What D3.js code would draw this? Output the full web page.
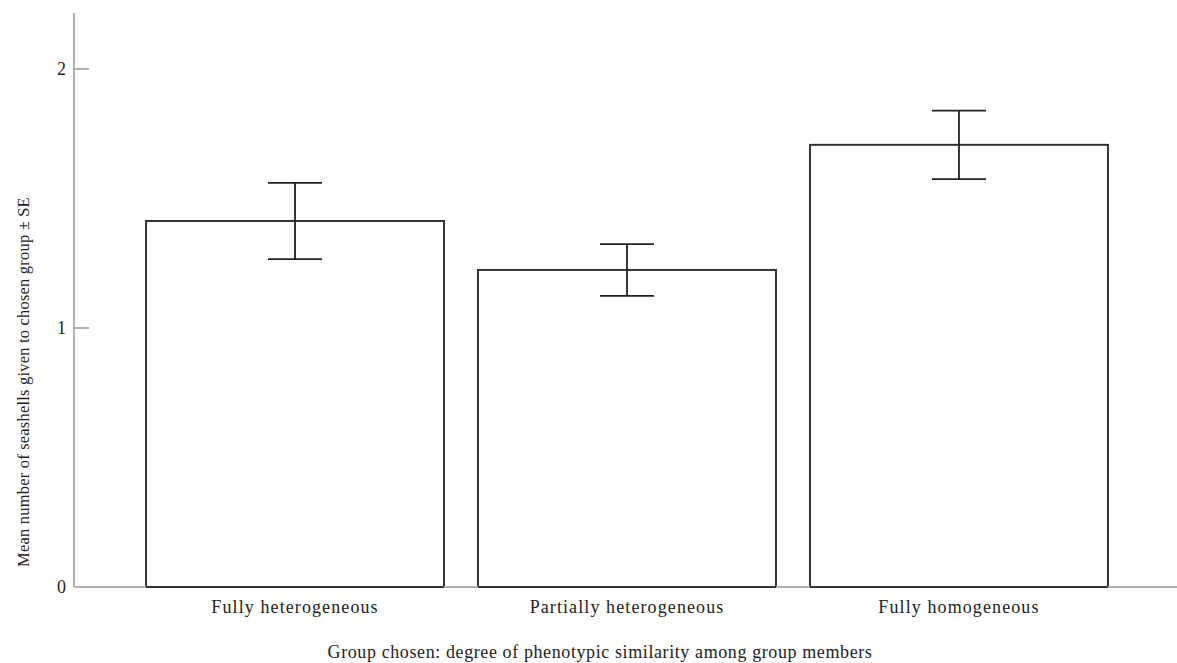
<!DOCTYPE html>
<html lang="en">
<head>
  <meta charset="UTF-8" />
  <title>Seashells given to chosen group</title>
  <script src="https://d3js.org/d3.v7.min.js"></script>
  <style>
    body { margin: 0; background: #fff; }
    svg text { font-family: "Liberation Serif", "Times New Roman", "DejaVu Serif", serif; fill: #222; }
    .axis-line { stroke: #b0b0b0; stroke-width: 2px; }
    .bar { fill: #fff; stroke: #333; stroke-width: 2px; }
    .err { stroke: #222; stroke-width: 1.8px; }
  </style>
</head>
<body>
<svg width="1177" height="663"></svg>
<script>
const categories = ["Fully heterogeneous", "Partially heterogeneous", "Fully homogeneous"];
const means = [1.413, 1.224, 1.707];
const se = [0.147, 0.100, 0.132];
const yTicks = [0, 1, 2];

const svg = d3.select("svg");
const x0 = 74, yBottom = 587, yTop = 13;

const x = d3.scaleBand()
  .domain(categories)
  .range([x0, 1180])
  .paddingInner(0.1024)
  .paddingOuter(0.217);

const y = d3.scaleLinear()
  .domain([0, 2.216])
  .range([yBottom, yTop]);

// bars
svg.append("g")
  .selectAll("rect")
  .data(categories)
  .join("rect")
  .attr("class", "bar")
  .attr("x", d => x(d))
  .attr("width", x.bandwidth())
  .attr("y", (d, i) => y(means[i]))
  .attr("height", (d, i) => yBottom - y(means[i]));

// axes drawn as plain lines
svg.append("line").attr("class", "axis-line")
  .attr("x1", x0).attr("x2", x0).attr("y1", yTop).attr("y2", yBottom);
svg.append("line").attr("class", "axis-line")
  .attr("x1", x0).attr("x2", 1177).attr("y1", yBottom).attr("y2", yBottom);

// redraw bar bottoms on top of axis
svg.append("g")
  .selectAll("line")
  .data(categories)
  .join("line")
  .attr("stroke", "#333").attr("stroke-width", 2)
  .attr("x1", d => x(d)).attr("x2", d => x(d) + x.bandwidth())
  .attr("y1", yBottom).attr("y2", yBottom);

const tick = svg.append("g")
  .selectAll("g")
  .data(yTicks.filter(t => t > 0))
  .join("g");
tick.append("line").attr("class", "axis-line").attr("stroke-width", 1.5)
  .attr("x1", x0).attr("x2", x0 + 15)
  .attr("y1", d => y(d)).attr("y2", d => y(d));

svg.append("g")
  .selectAll("text")
  .data(yTicks)
  .join("text")
  .attr("x", 66)
  .attr("y", d => y(d) + 6)
  .attr("text-anchor", "end")
  .attr("font-size", 18)
  .text(d => d);

// error bars
const eb = svg.append("g")
  .selectAll("g")
  .data(categories)
  .join("g");
const cx = d => x(d) + x.bandwidth() / 2;
eb.append("line").attr("class", "err")
  .attr("x1", cx).attr("x2", cx)
  .attr("y1", (d, i) => y(means[i] + se[i]))
  .attr("y2", (d, i) => y(means[i] - se[i]));
eb.append("line").attr("class", "err")
  .attr("x1", d => cx(d) - 27).attr("x2", d => cx(d) + 27)
  .attr("y1", (d, i) => y(means[i] + se[i]))
  .attr("y2", (d, i) => y(means[i] + se[i]));
eb.append("line").attr("class", "err")
  .attr("x1", d => cx(d) - 27).attr("x2", d => cx(d) + 27)
  .attr("y1", (d, i) => y(means[i] - se[i]))
  .attr("y2", (d, i) => y(means[i] - se[i]));

// category labels
svg.append("g")
  .selectAll("text")
  .data(categories)
  .join("text")
  .attr("x", cx)
  .attr("y", 613)
  .attr("text-anchor", "middle")
  .attr("font-size", 18)
  .attr("letter-spacing", 1.1)
  .text(d => d);

svg.append("text")
  .attr("x", 600)
  .attr("y", 658)
  .attr("text-anchor", "middle")
  .attr("font-size", 18)
  .attr("letter-spacing", 0.6)
  .text("Group chosen: degree of phenotypic similarity among group members");

svg.append("text")
  .attr("transform", "translate(29,382) rotate(-90)")
  .attr("text-anchor", "middle")
  .attr("font-size", 16.5)
  .attr("letter-spacing", 0.2)
  .text("Mean number of seashells given to chosen group ± SE");
</script>
</body>
</html>
